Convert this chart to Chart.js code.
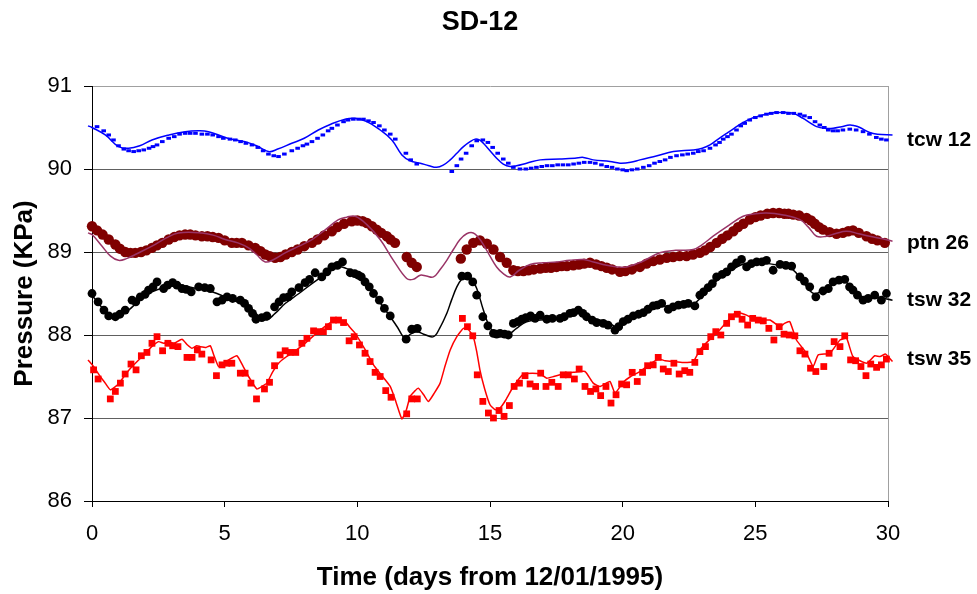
<!DOCTYPE html>
<html><head><meta charset="utf-8">
<script src="https://cdn.jsdelivr.net/npm/chart.js@4.4.1/dist/chart.umd.min.js"></script>
<style>html,body{margin:0;padding:0;background:#fff}canvas{display:block}</style>
</head><body>
<canvas id="c" width="977" height="594"></canvas>
<script>
const chartTitle = 'SD-12';
const xTitle = 'Time (days from 12/01/1995)';
const yTitle = 'Pressure (KPa)';
const xMin = 0, xMax = 30, xStep = 5;
const yMin = 86, yMax = 91, yStep = 1;
const seriesNames = ['tcw 12', 'ptn 26', 'tsw 32', 'tsw 35'];

// observed (markers) and modelled (lines), [day, KPa]
const tcw12Obs = [[0.19,90.51],[0.44,90.46],[0.63,90.41],[0.81,90.35],[1.0,90.28],[1.2,90.24],[1.38,90.22],[1.57,90.21],[1.76,90.22],[1.95,90.23],[2.15,90.25],[2.3,90.27],[2.45,90.29],[2.65,90.33],[2.89,90.37],[3.1,90.39],[3.3,90.42],[3.51,90.43],[3.7,90.43],[3.9,90.43],[4.14,90.42],[4.35,90.42],[4.55,90.41],[4.77,90.39],[4.95,90.37],[5.2,90.36],[5.4,90.35],[5.6,90.33],[5.8,90.31],[6.03,90.29],[6.25,90.26],[6.45,90.22],[6.65,90.18],[6.85,90.16],[7.03,90.15],[7.25,90.18],[7.53,90.22],[7.75,90.25],[7.95,90.28],[8.1,90.30],[8.29,90.33],[8.5,90.37],[8.7,90.41],[8.9,90.46],[9.04,90.49],[9.25,90.53],[9.48,90.57],[9.65,90.59],[9.85,90.60],[10.05,90.60],[10.23,90.60],[10.42,90.58],[10.61,90.56],[10.83,90.52],[11.02,90.47],[11.24,90.42],[11.43,90.36],[11.83,90.19],[12.01,90.11],[12.24,90.06],[13.56,89.97],[13.75,90.04],[13.91,90.12],[14.10,90.19],[14.31,90.28],[14.50,90.34],[14.73,90.35],[14.92,90.32],[15.10,90.26],[15.29,90.19],[15.50,90.12],[15.69,90.07],[15.88,90.02],[16.13,90.00],[16.35,90.00],[16.55,90.01],[16.75,90.02],[16.95,90.03],[17.15,90.04],[17.35,90.04],[17.55,90.05],[17.75,90.05],[17.95,90.05],[18.15,90.06],[18.35,90.07],[18.55,90.08],[18.77,90.08],[18.97,90.07],[19.2,90.05],[19.40,90.03],[19.6,90.02],[19.8,90.00],[20.0,89.99],[20.15,89.98],[20.35,89.99],[20.55,90.00],[20.78,90.02],[21.0,90.04],[21.2,90.07],[21.40,90.09],[21.6,90.11],[21.8,90.14],[22.03,90.16],[22.25,90.17],[22.45,90.18],[22.66,90.19],[22.85,90.21],[23.05,90.22],[23.29,90.25],[23.5,90.29],[23.65,90.32],[23.79,90.36],[23.95,90.39],[24.1,90.42],[24.29,90.47],[24.45,90.52],[24.6,90.55],[24.79,90.59],[25.0,90.62],[25.2,90.64],[25.42,90.66],[25.6,90.67],[25.8,90.68],[26.05,90.68],[26.25,90.67],[26.45,90.67],[26.68,90.66],[26.85,90.64],[27.05,90.62],[27.25,90.57],[27.43,90.53],[27.6,90.50],[27.75,90.47],[27.93,90.46],[28.1,90.46],[28.3,90.47],[28.56,90.48],[28.8,90.47],[29.06,90.45],[29.3,90.42],[29.56,90.38],[29.75,90.36],[29.94,90.35]];
const tcw12Model = [[-0.15,90.52],[0,90.50],[0.5,90.41],[1.0,90.27],[1.38,90.25],[1.8,90.28],[2.26,90.35],[2.9,90.41],[3.51,90.45],[4.0,90.46],[4.39,90.45],[5.02,90.38],[5.4,90.35],[5.77,90.33],[6.2,90.28],[6.65,90.21],[7.0,90.24],[7.53,90.31],[8.0,90.37],[8.53,90.47],[9.0,90.54],[9.54,90.60],[9.92,90.61],[10.36,90.57],[10.86,90.47],[11.30,90.35],[11.68,90.17],[11.99,90.10],[12.37,90.07],[12.7,90.04],[12.99,90.02],[13.25,90.05],[13.50,90.11],[13.75,90.19],[14.0,90.27],[14.25,90.33],[14.44,90.36],[14.6,90.35],[14.75,90.31],[15.0,90.22],[15.25,90.13],[15.5,90.06],[15.76,90.03],[16.0,90.04],[16.38,90.07],[16.89,90.11],[17.64,90.12],[18.2,90.13],[18.52,90.14],[18.89,90.11],[19.52,90.09],[19.90,90.07],[20.3,90.08],[20.65,90.11],[21.3,90.16],[21.91,90.21],[22.66,90.23],[23.0,90.25],[23.29,90.29],[23.6,90.36],[23.92,90.43],[24.2,90.49],[24.54,90.56],[24.85,90.61],[25.17,90.64],[25.5,90.67],[25.80,90.68],[26.1,90.68],[26.43,90.67],[26.80,90.61],[27.05,90.56],[27.31,90.51],[27.6,90.49],[27.93,90.49],[28.25,90.51],[28.56,90.53],[28.75,90.52],[28.94,90.50],[29.31,90.44],[29.6,90.42],[30.17,90.41]];

const ptn26Obs = [[0.0,89.31],[0.19,89.26],[0.4,89.21],[0.63,89.15],[0.88,89.09],[1.05,89.04],[1.25,89.00],[1.45,88.99],[1.63,88.99],[1.85,89.00],[2.05,89.02],[2.26,89.05],[2.45,89.08],[2.65,89.11],[2.89,89.15],[3.1,89.18],[3.3,89.20],[3.51,89.21],[3.7,89.21],[3.9,89.20],[4.14,89.19],[4.35,89.19],[4.55,89.18],[4.77,89.17],[5.0,89.14],[5.27,89.11],[5.45,89.11],[5.65,89.11],[5.9,89.08],[6.15,89.05],[6.35,89.01],[6.53,88.97],[6.7,88.95],[6.90,88.93],[7.1,88.94],[7.3,88.97],[7.53,89.00],[7.75,89.03],[8.0,89.07],[8.29,89.11],[8.5,89.15],[8.75,89.20],[9.04,89.25],[9.25,89.30],[9.5,89.34],[9.79,89.37],[10.0,89.38],[10.2,89.37],[10.36,89.35],[10.55,89.31],[10.73,89.27],[10.9,89.23],[11.11,89.19],[11.25,89.15],[11.42,89.11],[11.86,88.94],[12.05,88.87],[12.24,88.82],[13.90,88.92],[14.12,89.03],[14.37,89.11],[14.62,89.14],[14.88,89.10],[15.13,89.03],[15.38,88.94],[15.63,88.87],[15.88,88.78],[16.05,88.77],[16.26,88.77],[16.45,88.78],[16.65,88.79],[16.89,88.80],[17.1,88.81],[17.3,88.81],[17.51,88.82],[17.7,88.83],[17.9,88.83],[18.14,88.84],[18.35,88.85],[18.55,88.86],[18.77,88.87],[19.0,88.85],[19.2,88.83],[19.40,88.81],[19.6,88.79],[19.9,88.76],[20.1,88.77],[20.35,88.79],[20.65,88.82],[20.9,88.86],[21.15,88.89],[21.4,88.91],[21.66,88.93],[21.9,88.94],[22.15,88.95],[22.41,88.95],[22.65,88.97],[22.91,88.99],[23.1,89.02],[23.3,89.06],[23.54,89.11],[23.75,89.16],[23.95,89.20],[24.17,89.25],[24.35,89.30],[24.55,89.34],[24.79,89.39],[25.0,89.42],[25.2,89.44],[25.45,89.46],[25.67,89.47],[25.9,89.47],[26.1,89.46],[26.25,89.46],[26.43,89.45],[26.65,89.44],[26.93,89.41],[27.1,89.38],[27.24,89.34],[27.4,89.30],[27.55,89.27],[27.8,89.24],[28.06,89.22],[28.3,89.23],[28.5,89.25],[28.68,89.26],[28.9,89.23],[29.19,89.19],[29.4,89.16],[29.6,89.14],[29.88,89.11]];
const ptn26Model = [[-0.15,89.23],[0,89.21],[0.38,89.07],[0.7,88.95],[1.0,88.90],[1.3,88.92],[1.63,88.97],[2.26,89.07],[2.8,89.17],[3.26,89.23],[4.14,89.23],[4.6,89.20],[5.02,89.15],[5.5,89.11],[5.90,89.05],[6.2,88.97],[6.53,88.88],[6.85,88.91],[7.28,88.99],[7.8,89.07],[8.29,89.15],[8.8,89.27],[9.29,89.39],[9.6,89.42],[9.92,89.43],[10.36,89.33],[10.86,89.15],[11.36,88.90],[11.86,88.68],[12.1,88.67],[12.37,88.72],[12.6,88.71],[12.87,88.70],[13.1,88.78],[13.37,88.90],[13.62,89.03],[13.87,89.15],[14.12,89.22],[14.37,89.23],[14.55,89.18],[14.75,89.09],[15.0,88.95],[15.25,88.82],[15.5,88.74],[15.76,88.70],[16.1,88.78],[16.51,88.85],[17.0,88.87],[17.51,88.88],[18.0,88.90],[18.52,88.91],[18.9,88.88],[19.40,88.84],[19.8,88.82],[20.15,88.82],[20.7,88.88],[21.40,88.99],[22.0,89.02],[22.66,89.03],[23.0,89.09],[23.41,89.19],[24.0,89.32],[24.54,89.43],[25.0,89.46],[25.42,89.47],[26.0,89.45],[26.68,89.39],[27.0,89.30],[27.31,89.19],[27.68,89.19],[28.0,89.22],[28.44,89.25],[28.9,89.22],[29.31,89.19],[29.8,89.16],[30.17,89.13]];

const tsw32Obs = [[0.0,88.50],[0.23,88.40],[0.45,88.30],[0.63,88.23],[0.88,88.22],[1.05,88.25],[1.25,88.30],[1.51,88.42],[1.65,88.40],[1.82,88.46],[2.0,88.49],[2.13,88.54],[2.3,88.58],[2.45,88.64],[2.70,88.56],[2.85,88.60],[3.04,88.63],[3.2,88.60],[3.39,88.56],[3.55,88.55],[3.74,88.52],[4.02,88.58],[4.25,88.57],[4.46,88.56],[4.71,88.40],[4.9,88.42],[5.09,88.46],[5.3,88.44],[5.59,88.42],[5.75,88.38],[5.90,88.32],[6.05,88.26],[6.18,88.19],[6.4,88.21],[6.59,88.23],[6.88,88.34],[7.05,88.40],[7.22,88.45],[7.4,88.46],[7.53,88.52],[7.8,88.57],[8.03,88.63],[8.2,88.67],[8.41,88.75],[8.66,88.70],[8.85,88.76],[9.04,88.82],[9.25,88.84],[9.44,88.88],[9.73,88.75],[9.9,88.74],[10.04,88.72],[10.15,88.70],[10.29,88.64],[10.45,88.58],[10.61,88.50],[10.83,88.42],[11.02,88.32],[11.24,88.23],[11.84,87.95],[12.05,88.07],[12.26,88.08],[13.94,88.71],[14.16,88.71],[14.35,88.64],[14.50,88.48],[14.73,88.22],[14.92,88.11],[15.13,88.02],[15.25,88.01],[15.38,88.02],[15.55,88.01],[15.69,88.00],[15.88,88.14],[16.05,88.16],[16.20,88.19],[16.35,88.21],[16.53,88.23],[16.7,88.20],[16.89,88.24],[17.14,88.19],[17.35,88.20],[17.64,88.20],[17.8,88.22],[18.01,88.26],[18.15,88.27],[18.33,88.30],[18.5,88.26],[18.64,88.22],[18.85,88.18],[19.02,88.15],[19.27,88.14],[19.45,88.12],[19.71,88.06],[19.85,88.10],[20.02,88.16],[20.2,88.19],[20.40,88.23],[20.6,88.25],[20.78,88.27],[20.95,88.31],[21.15,88.35],[21.3,88.36],[21.47,88.38],[21.72,88.31],[21.9,88.34],[22.10,88.36],[22.3,88.37],[22.47,88.38],[22.72,88.35],[22.91,88.48],[23.05,88.52],[23.22,88.57],[23.38,88.62],[23.54,88.70],[23.75,88.73],[23.92,88.76],[24.1,88.82],[24.29,88.87],[24.48,88.91],[24.67,88.82],[24.85,88.86],[25.05,88.88],[25.25,88.88],[25.42,88.90],[25.67,88.78],[25.93,88.85],[26.15,88.84],[26.37,88.83],[26.68,88.70],[26.85,88.65],[27.05,88.58],[27.28,88.46],[27.55,88.53],[27.75,88.56],[27.93,88.64],[28.15,88.66],[28.37,88.67],[28.55,88.58],[28.68,88.54],[28.85,88.48],[29.06,88.42],[29.25,88.44],[29.50,88.48],[29.75,88.42],[29.94,88.50]];
const tsw32Model = [[0,88.48],[0.4,88.32],[0.75,88.20],[1.0,88.22],[1.38,88.30],[1.8,88.42],[2.26,88.52],[2.7,88.57],[3.26,88.60],[3.8,88.57],[4.52,88.52],[5.15,88.44],[5.6,88.38],[6.03,88.30],[6.53,88.18],[6.9,88.26],[7.28,88.38],[7.8,88.50],[8.29,88.62],[8.8,88.73],[9.29,88.82],[9.6,88.80],[9.98,88.75],[10.3,88.65],[10.61,88.50],[10.9,88.37],[11.24,88.22],[11.5,88.10],[11.80,87.96],[12.0,88.01],[12.24,88.04],[12.5,88.01],[12.87,87.98],[13.1,88.08],[13.37,88.26],[13.55,88.42],[13.75,88.58],[13.95,88.68],[14.12,88.72],[14.3,88.68],[14.50,88.56],[14.75,88.30],[14.95,88.12],[15.13,88.04],[15.4,88.00],[15.63,87.99],[16.0,88.08],[16.38,88.16],[16.9,88.18],[17.51,88.20],[18.0,88.24],[18.39,88.26],[18.9,88.20],[19.40,88.16],[19.8,88.10],[20.2,88.18],[20.8,88.26],[21.4,88.34],[22.0,88.35],[22.6,88.36],[23.0,88.47],[23.5,88.64],[24.0,88.76],[24.5,88.85],[25.0,88.87],[25.5,88.86],[26.0,88.83],[26.4,88.79],[26.8,88.64],[27.2,88.50],[27.6,88.55],[28.0,88.62],[28.4,88.64],[28.8,88.50],[29.2,88.44],[29.6,88.45],[30.17,88.42]];

const tsw35Obs = [[0.06,87.58],[0.23,87.47],[0.69,87.23],[0.88,87.32],[1.07,87.42],[1.25,87.53],[1.47,87.65],[1.66,87.58],[1.86,87.75],[2.07,87.79],[2.26,87.90],[2.45,87.98],[2.66,87.81],[2.86,87.90],[3.04,87.87],[3.24,87.86],[3.58,87.73],[3.77,87.73],[3.97,87.82],[4.14,87.77],[4.49,87.70],[4.69,87.51],[4.90,87.64],[5.08,87.66],[5.27,87.66],[5.59,87.54],[5.77,87.54],[5.99,87.42],[6.20,87.23],[6.50,87.35],[6.69,87.43],[6.88,87.63],[7.09,87.76],[7.28,87.81],[7.47,87.79],[7.68,87.79],[7.91,87.90],[8.10,87.96],[8.35,88.05],[8.53,88.04],[8.72,88.04],[8.91,88.10],[9.10,88.18],[9.29,88.18],[9.48,88.15],[9.69,87.93],[9.88,87.98],[10.08,87.88],[10.29,87.78],[10.48,87.68],[10.67,87.55],[10.86,87.50],[11.07,87.33],[11.27,87.25],[11.86,87.05],[12.05,87.23],[12.26,87.23],[13.96,88.20],[14.15,88.10],[14.35,87.99],[14.52,87.52],[14.73,87.20],[14.94,87.06],[15.13,87.00],[15.34,87.09],[15.53,87.02],[15.73,87.15],[15.91,87.38],[16.11,87.42],[16.32,87.51],[16.51,87.41],[16.72,87.38],[16.91,87.54],[17.11,87.38],[17.33,87.43],[17.57,87.38],[17.76,87.52],[17.95,87.52],[18.18,87.47],[18.36,87.59],[18.58,87.38],[18.79,87.32],[18.99,87.35],[19.17,87.27],[19.37,87.38],[19.56,87.18],[19.75,87.28],[19.96,87.41],[20.15,87.40],[20.36,87.55],[20.55,87.44],[20.75,87.55],[20.94,87.63],[21.15,87.64],[21.34,87.73],[21.53,87.59],[21.72,87.56],[21.93,87.66],[22.13,87.53],[22.34,87.57],[22.53,87.55],[22.72,87.67],[22.91,87.80],[23.12,87.86],[23.32,87.98],[23.51,88.04],[23.70,88.00],[23.92,88.14],[24.10,88.22],[24.32,88.25],[24.50,88.19],[24.71,88.12],[24.90,88.20],[25.11,88.18],[25.30,88.17],[25.51,88.08],[25.70,87.94],[25.90,88.10],[26.08,88.01],[26.28,88.00],[26.49,87.99],[26.68,87.81],[26.87,87.77],[27.08,87.60],[27.28,87.56],[27.58,87.62],[27.78,87.78],[27.97,87.92],[28.19,87.86],[28.37,87.99],[28.59,87.70],[28.78,87.69],[28.98,87.62],[29.17,87.51],[29.35,87.65],[29.57,87.61],[29.75,87.64],[29.94,87.71]];
const tsw35Model = [[-0.15,87.70],[0.06,87.62],[0.31,87.50],[0.5,87.42],[0.69,87.34],[1.0,87.41],[1.25,87.52],[1.51,87.62],[2.01,87.78],[2.25,87.86],[2.51,87.92],[2.7,87.90],[2.89,87.92],[3.1,87.90],[3.39,87.95],[3.6,87.88],[3.77,87.84],[3.95,87.87],[4.08,87.86],[4.3,87.85],[4.46,87.87],[4.6,87.75],[4.77,87.62],[4.95,87.66],[5.15,87.70],[5.46,87.75],[5.7,87.62],[5.90,87.50],[6.21,87.35],[6.4,87.38],[6.59,87.42],[6.8,87.55],[7.03,87.66],[7.25,87.72],[7.53,87.78],[8.03,87.90],[8.53,88.04],[9.04,88.16],[9.3,88.16],[9.54,88.16],[9.75,88.08],[9.92,88.02],[10.3,87.82],[10.61,87.64],[10.9,87.52],[11.24,87.38],[11.45,87.20],[11.68,86.99],[11.85,87.10],[11.99,87.26],[12.15,87.32],[12.30,87.36],[12.5,87.28],[12.68,87.20],[12.9,87.30],[13.12,87.42],[13.3,87.62],[13.50,87.82],[13.75,87.98],[14.00,88.08],[14.2,88.06],[14.37,87.98],[14.5,87.80],[14.62,87.58],[14.8,87.35],[15.00,87.16],[15.2,87.10],[15.38,87.12],[15.6,87.22],[15.88,87.38],[16.26,87.53],[16.6,87.54],[16.89,87.53],[17.14,87.48],[17.4,87.50],[17.76,87.53],[18.14,87.55],[18.58,87.56],[18.89,87.42],[19.15,87.38],[19.52,87.44],[19.71,87.30],[20.02,87.43],[20.3,87.50],[20.65,87.56],[21.0,87.64],[21.34,87.71],[21.6,87.69],[21.91,87.68],[22.28,87.67],[22.66,87.68],[22.91,87.82],[23.2,87.92],[23.54,88.02],[23.9,88.15],[24.1,88.22],[24.29,88.27],[24.5,88.26],[24.67,88.24],[25.05,88.18],[25.55,88.18],[25.93,88.10],[26.1,88.14],[26.30,88.16],[26.55,87.94],[26.93,87.78],[27.18,87.62],[27.37,87.76],[27.81,87.78],[28.19,87.94],[28.44,87.96],[28.68,87.74],[29.19,87.66],[29.50,87.75],[29.7,87.74],[29.91,87.77],[30.17,87.68]];

const FONT = "'Liberation Sans', Arial, sans-serif";
const toXY = arr => arr.map(p => ({x: p[0], y: p[1]}));

const obsSets = [tcw12Obs, ptn26Obs, tsw32Obs, tsw35Obs];
const modelSets = [tcw12Model, ptn26Model, tsw32Model, tsw35Model];
const lineColors = ['#0000FF', '#993366', '#000000', '#FF0000'];
const markColors = ['#0000FF', '#800000', '#000000', '#FF0000'];
const markStyles = [
  {pointStyle: 'line', pointRadius: 2.3, pointBorderWidth: 3},
  {pointStyle: 'circle', pointRadius: 5.2, pointBorderWidth: 0},
  {pointStyle: 'circle', pointRadius: 4.4, pointBorderWidth: 0},
  {pointStyle: 'rect', pointRadius: 4.8, pointBorderWidth: 0}
];
const lineTension = [0.4, 0.4, 0.4, 0.15];
// which curve's last point each right-hand label sits beside
const labelAnchor = ['obs', 'obs', 'model', 'obs'];

const datasets = [];
seriesNames.forEach((name, i) => {
  datasets.push({
    label: name + ' model', data: toXY(modelSets[i]), borderColor: lineColors[i],
    borderWidth: 1.5, pointRadius: 0, tension: lineTension[i], fill: false,
    order: 0, clip: {left: 6, right: 6, top: 2, bottom: 2}
  });
  datasets.push(Object.assign({
    label: name, data: toXY(obsSets[i]), showLine: false,
    pointBackgroundColor: markColors[i], pointBorderColor: markColors[i],
    order: 1, clip: {left: 6, right: 6, top: 6, bottom: 6}
  }, markStyles[i]));
});

const decor = {
  id: 'decor',
  beforeDatasetsDraw(chart) {
    const {ctx, chartArea: a} = chart;
    ctx.save();
    ctx.strokeStyle = '#a0a0a0'; ctx.lineWidth = 1;
    const rx = Math.round(a.right) + 0.5;
    ctx.beginPath(); ctx.moveTo(rx, a.top); ctx.lineTo(rx, a.bottom); ctx.stroke();
    ctx.restore();
  },
  afterDraw(chart) {
    const {ctx, chartArea: a} = chart;
    ctx.save();
    ctx.fillStyle = '#000';
    ctx.font = 'bold 27px ' + FONT;
    ctx.textAlign = 'center'; ctx.textBaseline = 'middle';
    ctx.fillText(chartTitle, 480, 23);
    ctx.font = 'bold 21px ' + FONT;
    ctx.textAlign = 'left';
    seriesNames.forEach((name, i) => {
      const di = i * 2 + (labelAnchor[i] === 'obs' ? 1 : 0);
      const ds = chart.data.datasets[di];
      const pts = chart.getDatasetMeta(di).data;
      const lastData = ds.data[ds.data.length - 1];
      const yPix = chart.scales.y.getPixelForValue(lastData.y);
      ctx.fillText(name, a.right + 19, yPix);
    });
    ctx.restore();
  }
};

new Chart(document.getElementById('c'), {
  type: 'line',
  data: {datasets},
  options: {
    responsive: false, animation: false, devicePixelRatio: 1,
    layout: {padding: {left: 0, right: 89, top: 86, bottom: 0}},
    plugins: {legend: {display: false}, tooltip: {enabled: false}, title: {display: false}},
    scales: {
      x: {
        type: 'linear', min: xMin, max: xMax,
        afterFit(s) { s.height = 93; },
        ticks: {stepSize: xStep, color: '#000', font: {family: FONT, size: 22}, padding: 14, autoSkip: false, maxRotation: 0},
        grid: {drawOnChartArea: false, drawTicks: true, tickLength: 6, tickColor: '#000', tickWidth: 1},
        border: {color: '#000', width: 1},
        title: {display: true, text: xTitle, color: '#000', font: {family: FONT, size: 26, weight: 'bold'}, padding: {top: 0, bottom: 1}}
      },
      y: {
        type: 'linear', min: yMin, max: yMax,
        afterFit(s) { s.width = 92; },
        ticks: {stepSize: yStep, color: '#000', font: {family: FONT, size: 22}, padding: 12},
        grid: {color: ctx => (ctx.tick && ctx.tick.value === yMax) ? '#a0a0a0' : '#606060', lineWidth: 1, tickLength: 8, tickColor: '#000', tickWidth: 1},
        border: {color: '#000', width: 1},
        title: {display: true, text: yTitle, color: '#000', font: {family: FONT, size: 26, weight: 'bold'}, padding: {top: 9, bottom: 0}}
      }
    }
  },
  plugins: [decor]
});
</script>
</body></html>
